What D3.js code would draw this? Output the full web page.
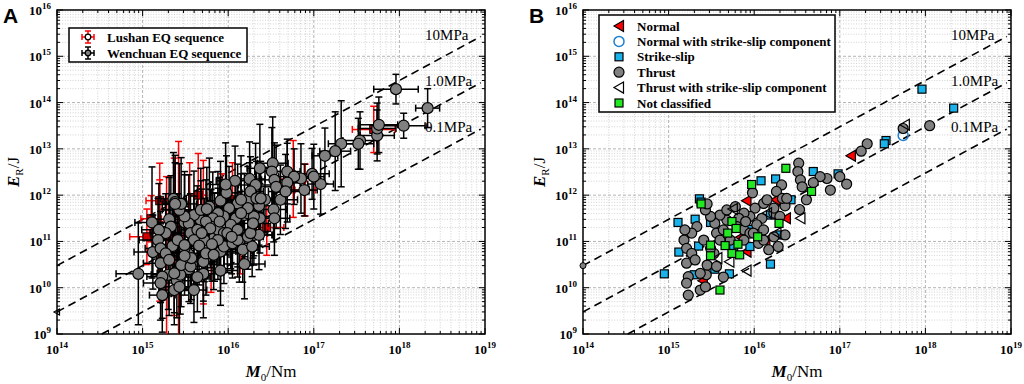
<!DOCTYPE html>
<html>
<head>
<meta charset="utf-8">
<script src="https://cdn.jsdelivr.net/npm/d3@7"></script>
<style>
  body { margin: 0; background: #fff; }
  svg { display: block; }
</style>
</head>
<body>
<div id="container"></div>
<script>
// ---- data: [log10 M0, log10 ER, log half-width M0, log half-width ER] ----
const normal = [
  [17.13,12.85,0.15,0.60],[15.91,11.88,0.15,0.85],[16.25,11.90,0.18,0.80],[16.37,11.50,0.20,0.75],
  [16.13,11.02,0.15,0.90],[15.91,10.78,0.18,0.85],[15.84,11.09,0.15,0.95],[15.40,10.15,0.20,0.80]
];
const normalSS = [[17.74,13.29,0.20,0.55]];
const strikeSlip = [
  [17.96,14.29,0.26,0.32],[18.33,13.88,0.14,0.42],[17.54,13.18,0.20,0.62],[17.52,13.11,0.18,0.55],
  [16.98,12.46,0.20,0.55],[16.69,12.51,0.15,0.70],[16.25,12.35,0.18,0.80],[16.08,12.31,0.22,0.75],
  [16.43,11.90,0.20,0.70],[15.36,11.92,0.15,1.00],[15.38,11.85,0.12,0.85],[15.11,11.41,0.20,1.20],
  [15.31,11.48,0.18,0.90],[15.12,10.77,0.22,0.80],[14.95,10.30,0.26,1.10],[15.30,10.28,0.20,0.75],
  [15.54,10.40,0.18,0.70],[15.71,10.30,0.20,0.95],[16.19,10.51,0.24,0.75],[16.30,11.14,0.22,0.65],
  [15.95,11.26,0.15,0.85],[15.49,11.41,0.15,1.10],[15.35,10.90,0.20,0.90],[15.95,10.89,0.18,0.80],
  [16.19,11.57,0.22,0.90],[15.76,10.89,0.20,0.70]
];
const thrust = [
  [18.05,13.50,0.25,0.27],[17.74,13.44,0.22,0.55],[17.32,13.11,0.15,0.93],[17.25,12.95,0.18,0.85],
  [17.08,12.24,0.15,0.65],[17.00,12.40,0.12,0.70],[16.89,12.11,0.15,0.56],[16.85,12.36,0.20,0.75],
  [16.77,12.40,0.18,0.60],[16.69,12.27,0.15,0.85],[16.52,12.69,0.18,1.00],[16.51,12.51,0.20,0.95],
  [16.54,12.33,0.15,0.80],[16.56,12.18,0.18,0.90],[16.61,11.90,0.20,0.75],[16.53,11.69,0.15,0.70],
  [16.36,11.77,0.18,0.85],[16.32,12.22,0.20,0.90],[16.26,12.08,0.15,0.75],[16.33,11.93,0.20,0.80],
  [16.23,11.61,0.18,0.70],[16.11,11.82,0.20,0.85],[16.01,11.72,0.15,0.90],[15.98,12.05,0.18,0.80],
  [16.09,11.50,0.20,0.75],[16.03,11.36,0.15,0.95],[15.95,11.54,0.18,0.80],[15.88,11.61,0.20,0.90],
  [15.82,11.50,0.15,1.00],[15.68,11.46,0.18,0.85],[15.60,11.57,0.20,0.95],[15.54,11.39,0.15,1.05],
  [15.49,11.54,0.18,0.90],[15.43,11.68,0.20,1.00],[15.33,11.32,0.15,1.10],[15.27,11.18,0.18,0.85],
  [15.19,11.25,0.20,1.00],[15.18,11.03,0.22,0.90],[15.21,10.85,0.18,0.80],[15.27,10.74,0.15,0.95],
  [15.21,10.53,0.20,0.85],[15.23,10.24,0.18,0.90],[15.21,10.10,0.20,0.80],[15.23,9.84,0.15,0.80],
  [15.37,9.95,0.18,0.75],[15.44,10.28,0.20,0.85],[15.45,10.49,0.15,0.90],[15.53,10.74,0.18,0.80],
  [15.41,11.03,0.20,1.00],[15.56,11.18,0.15,0.85],[15.64,11.25,0.18,0.95],[15.80,11.32,0.20,0.80],
  [15.88,11.25,0.15,0.90],[15.95,11.18,0.18,0.85],[16.05,10.96,0.20,0.75],[16.11,11.03,0.15,0.80],
  [16.17,10.82,0.18,0.70],[16.28,10.89,0.20,0.65],[16.36,11.14,0.15,0.75],[16.23,11.10,0.18,0.70],
  [15.88,11.03,0.20,0.85],[15.72,11.03,0.15,0.90],[15.60,11.03,0.18,0.95],[15.49,10.85,0.20,0.90],
  [15.64,10.23,0.15,0.75],[15.43,10.02,0.18,1.30],[15.37,10.31,0.20,0.85],[15.31,10.60,0.15,1.20],
  [15.56,10.46,0.18,0.80],[15.90,11.43,0.20,0.95],[15.99,11.18,0.15,0.85],[15.45,11.81,0.18,1.00],
  [15.68,11.68,0.20,0.90],[15.78,11.75,0.15,1.05],[16.11,11.25,0.18,0.80],[16.30,11.54,0.20,0.85],
  [16.23,11.72,0.15,0.90],[16.15,11.90,0.18,0.95],[16.38,11.93,0.20,0.80]
];
const thrustSS = [
  [17.76,13.52,0.22,0.60],[15.75,11.70,0.15,0.90],[16.54,11.50,0.18,0.80],[15.91,10.37,0.20,0.75],
  [15.71,10.56,0.15,0.85],[15.57,10.64,0.18,0.90],[16.26,11.18,0.20,0.70],[16.15,11.61,0.15,0.85]
];
const notClassified = [
  [16.37,12.58,0.15,0.95],[15.97,12.23,0.18,0.90],[16.67,12.08,0.20,0.80],[15.38,11.81,0.15,1.05],
  [16.29,11.39,0.18,0.75],[15.74,11.43,0.20,0.90],[15.79,11.28,0.15,0.85],[16.04,11.10,0.18,0.80],
  [15.69,11.18,0.20,0.95],[15.49,10.92,0.15,0.90],[15.66,10.91,0.18,0.85],[15.81,10.94,0.20,0.80],
  [15.74,10.74,0.15,0.90],[15.83,10.71,0.18,0.75],[15.49,10.69,0.20,0.85],[15.60,9.95,0.15,0.70]
];
// Lushan sequence (panel A, red)
const lushan = [
  [15.42,11.00,0.12,2.16],[15.37,11.10,0.10,1.70],[15.20,11.20,0.12,1.49],[15.28,10.60,0.10,1.80],
  [15.71,11.20,0.15,1.55],[15.20,11.88,0.16,0.45],[15.10,11.49,0.12,0.50],[15.93,11.80,0.15,0.66],
  [16.76,12.35,0.15,0.83],[16.90,12.11,0.12,0.56],[17.70,13.42,0.25,0.50],[16.14,11.00,0.12,0.70],
  [15.55,11.60,0.15,1.10],[16.45,11.30,0.20,0.60],[15.80,10.80,0.12,0.90],[16.05,11.90,0.12,0.80],
  [15.65,12.00,0.10,0.90],[15.05,11.10,0.20,0.60]
];

const xTickExp = [14, 15, 16, 17, 18, 19];
const yTickExp = [9, 10, 11, 12, 13, 14, 15, 16];
const stressMPa = [10, 1.0, 0.1];
const stressLabels = ['10MPa', '1.0MPa', '0.1MPa'];
const ratioPerMPa = 3e-5;   // E_R / M0 for a 1 MPa stress drop
const lineEndExp = 18.95;
const labelExp = 18.3;

const bLegend = ['Normal', 'Normal with strike-slip component', 'Strike-slip', 'Thrust',
                 'Thrust with strike-slip component', 'Not classified'];
const aLegend = ['Lushan EQ sequence', 'Wenchuan EQ sequence'];

const SERIF = "'Liberation Serif','Times New Roman',serif";
const P = v => Math.pow(10, v);

const svg = d3.select('#container').append('svg')
    .attr('width', 1024).attr('height', 384);

const defs = svg.append('defs');

const triPath = 'M-5,0L4.5,-5.5L4.5,5.5Z';

function panel(left, id, letter) {
  const top = 10, bottom = 334, right = left + 428;
  const x = d3.scaleLog().domain([1e14, 1e19]).range([left, right]);
  const y = d3.scaleLog().domain([1e9, 1e16]).range([bottom, top]);
  const g = svg.append('g');

  defs.append('clipPath').attr('id', 'clip' + id)
    .append('rect').attr('x', left).attr('y', top).attr('width', right - left).attr('height', bottom - top);

  // grid
  const minorX = [], minorY = [];
  for (let d = 14; d < 19; d++) for (let k = 2; k < 10; k++) minorX.push(k * P(d));
  for (let d = 9; d < 16; d++) for (let k = 2; k < 10; k++) minorY.push(k * P(d));
  const grid = g.append('g');
  grid.selectAll('.mx').data(minorX).enter().append('line')
    .attr('x1', d => x(d)).attr('x2', d => x(d)).attr('y1', top).attr('y2', bottom)
    .attr('stroke', '#c8c8c8').attr('stroke-width', 0.8).attr('stroke-dasharray', '1,1.6');
  grid.selectAll('.my').data(minorY).enter().append('line')
    .attr('y1', d => y(d)).attr('y2', d => y(d)).attr('x1', left).attr('x2', right)
    .attr('stroke', '#c8c8c8').attr('stroke-width', 0.8).attr('stroke-dasharray', '1,1.6');
  grid.selectAll('.Mx').data(xTickExp.slice(1, -1)).enter().append('line')
    .attr('x1', d => x(P(d))).attr('x2', d => x(P(d))).attr('y1', top).attr('y2', bottom)
    .attr('stroke', '#b4b4b4').attr('stroke-width', 1).attr('stroke-dasharray', '3,2');
  grid.selectAll('.My').data(yTickExp.slice(1, -1)).enter().append('line')
    .attr('y1', d => y(P(d))).attr('y2', d => y(P(d))).attr('x1', left).attr('x2', right)
    .attr('stroke', '#b4b4b4').attr('stroke-width', 1).attr('stroke-dasharray', '3,2');

  // stress drop lines
  const lines = g.append('g');
  stressMPa.forEach((s, i) => {
    const r = ratioPerMPa * s;
    const x0 = Math.max(1e14, 1e9 / r), x1 = P(lineEndExp);
    lines.append('line')
      .attr('x1', x(x0)).attr('y1', y(r * x0)).attr('x2', x(x1)).attr('y2', y(r * x1))
      .attr('stroke', '#000').attr('stroke-width', 1.6).attr('stroke-dasharray', '8,5');
    lines.append('text')
      .attr('x', x(P(labelExp))).attr('y', y(r * P(labelExp)) - 27)
      .attr('font-family', SERIF).attr('font-size', 15).text(stressLabels[i]);
  });

  // frame and ticks
  const ax = g.append('g');
  const tickSet = [];
  xTickExp.forEach(d => tickSet.push({v: P(d), major: true}));
  minorX.forEach(v => tickSet.push({v, major: false}));
  tickSet.forEach(t => {
    const px = x(t.v), L = t.major ? 6 : 3;
    ax.append('line').attr('x1', px).attr('x2', px).attr('y1', bottom).attr('y2', bottom - L).attr('stroke', '#000');
    ax.append('line').attr('x1', px).attr('x2', px).attr('y1', top).attr('y2', top + L).attr('stroke', '#000');
  });
  const ytickSet = [];
  yTickExp.forEach(d => ytickSet.push({v: P(d), major: true}));
  minorY.forEach(v => ytickSet.push({v, major: false}));
  ytickSet.forEach(t => {
    const py = y(t.v), L = t.major ? 6 : 3;
    ax.append('line').attr('y1', py).attr('y2', py).attr('x1', left).attr('x2', left + L).attr('stroke', '#000');
    ax.append('line').attr('y1', py).attr('y2', py).attr('x1', right).attr('x2', right - L).attr('stroke', '#000');
  });
  ax.append('rect').attr('x', left).attr('y', top).attr('width', right - left).attr('height', bottom - top)
    .attr('fill', 'none').attr('stroke', '#000').attr('stroke-width', 1.5);

  // tick labels
  const tl = g.append('g').attr('font-family', SERIF).attr('font-weight', 'bold');
  xTickExp.forEach(d => {
    const t = tl.append('text').attr('x', x(P(d))).attr('y', bottom + 20).attr('text-anchor', 'middle');
    t.append('tspan').attr('font-size', 13).text('10');
    t.append('tspan').attr('font-size', 9).attr('dy', -6).text(d);
  });
  yTickExp.forEach(d => {
    const t = tl.append('text').attr('x', left - 6).attr('y', y(P(d)) + 5).attr('text-anchor', 'end');
    t.append('tspan').attr('font-size', 13).text('10');
    t.append('tspan').attr('font-size', 9).attr('dy', -6).text(d);
  });

  // axis titles
  const xt = g.append('text').attr('x', (left + right) / 2).attr('y', 377)
    .attr('text-anchor', 'middle').attr('font-family', SERIF).attr('font-size', 17);
  xt.append('tspan').attr('font-weight', 'bold').attr('font-style', 'italic').text('M');
  xt.append('tspan').attr('font-size', 11).attr('dy', 4).text('0');
  xt.append('tspan').attr('dy', -4).text('/Nm');
  const yt = g.append('text').attr('transform', `translate(${left - 38},${(top + bottom) / 2}) rotate(-90)`)
    .attr('text-anchor', 'middle').attr('font-family', SERIF).attr('font-size', 17);
  yt.append('tspan').attr('font-weight', 'bold').attr('font-style', 'italic').text('E');
  yt.append('tspan').attr('font-size', 11).attr('dy', 4).text('R');
  yt.append('tspan').attr('dy', -4).text('/J');

  g.append('text').attr('x', left - 54).attr('y', 23)
    .attr('font-family', "'Liberation Sans',Arial,sans-serif").attr('font-weight', 'bold')
    .attr('font-size', 21).text(letter);

  const plot = g.append('g').attr('clip-path', `url(#clip${id})`);
  return {x, y, g, plot, left, top};
}

// ---------------- Panel A ----------------
const A = panel(57, 'A', 'A');

function errorBars(p, data, color) {
  const gg = p.plot.append('g').attr('stroke', color).attr('stroke-width', 1.5).attr('fill', 'none');
  data.forEach(d => {
    const cx = p.x(P(d[0])), cy = p.y(P(d[1]));
    const xl = p.x(P(d[0] - d[2])), xr = p.x(P(d[0] + d[2]));
    const yt = p.y(P(d[1] + d[3])), yb = p.y(P(d[1] - d[3]));
    gg.append('line').attr('x1', cx).attr('x2', cx).attr('y1', yt).attr('y2', yb);
    gg.append('line').attr('x1', xl).attr('x2', xr).attr('y1', cy).attr('y2', cy);
    gg.append('line').attr('x1', cx - 3.5).attr('x2', cx + 3.5).attr('y1', yt).attr('y2', yt);
    gg.append('line').attr('x1', cx - 3.5).attr('x2', cx + 3.5).attr('y1', yb).attr('y2', yb);
    gg.append('line').attr('x1', xl).attr('x2', xl).attr('y1', cy - 3.5).attr('y2', cy + 3.5);
    gg.append('line').attr('x1', xr).attr('x2', xr).attr('y1', cy - 3.5).attr('y2', cy + 3.5);
  });
}

const wenchuan = [].concat(normal, normalSS, strikeSlip, thrust, thrustSS, notClassified);

errorBars(A, lushan, '#ff0000');
A.plot.append('g').selectAll('rect').data(lushan).enter().append('rect')
  .attr('x', d => A.x(P(d[0])) - 4).attr('y', d => A.y(P(d[1])) - 4)
  .attr('width', 8).attr('height', 8).attr('fill', '#d00000').attr('stroke', '#000');
errorBars(A, wenchuan, '#000');
A.plot.append('g').selectAll('circle').data(wenchuan).enter().append('circle')
  .attr('cx', d => A.x(P(d[0]))).attr('cy', d => A.y(P(d[1]))).attr('r', 5.5)
  .attr('fill', '#808080').attr('stroke', '#000').attr('stroke-width', 1.2);

// small marker at the start of the 1.0 MPa line
A.g.append('path').attr('d', 'M-3,0L2.5,-3L2.5,3Z')
  .attr('transform', `translate(${A.x(1e14)},${A.y(ratioPerMPa * 1e14)})`)
  .attr('fill', 'none').attr('stroke', '#000').attr('stroke-width', 1.2);

// legend A
const la = A.g.append('g');
la.append('rect').attr('x', 69).attr('y', 28).attr('width', 178).attr('height', 34)
  .attr('fill', '#fff').attr('stroke', '#000').attr('stroke-width', 1.5);
aLegend.forEach((t, i) => {
  const cy = 37 + i * 16, cx = 88, col = i === 0 ? '#ff0000' : '#000';
  const s = la.append('g').attr('stroke', col).attr('stroke-width', 1.5);
  s.append('line').attr('x1', cx - 6).attr('x2', cx + 6).attr('y1', cy).attr('y2', cy);
  s.append('line').attr('x1', cx).attr('x2', cx).attr('y1', cy - 6).attr('y2', cy + 6);
  s.append('line').attr('x1', cx - 3).attr('x2', cx + 3).attr('y1', cy - 6).attr('y2', cy - 6);
  s.append('line').attr('x1', cx - 3).attr('x2', cx + 3).attr('y1', cy + 6).attr('y2', cy + 6);
  s.append('line').attr('x1', cx - 6).attr('x2', cx - 6).attr('y1', cy - 3).attr('y2', cy + 3);
  s.append('line').attr('x1', cx + 6).attr('x2', cx + 6).attr('y1', cy - 3).attr('y2', cy + 3);
  la.append('circle').attr('cx', cx).attr('cy', cy).attr('r', 2.8)
    .attr('fill', i === 0 ? '#fff' : '#808080').attr('stroke', '#000').attr('stroke-width', 1.3);
  la.append('text').attr('x', 107).attr('y', cy + 4.5)
    .attr('font-family', SERIF).attr('font-weight', 'bold').attr('font-size', 13).text(t);
});

// ---------------- Panel B ----------------
const B = panel(583, 'B', 'B');

const styles = [
  {data: normal, shape: 'tri', fill: '#ff0000', stroke: '#000'},
  {data: normalSS, shape: 'circle', fill: 'none', stroke: '#1f7fd0'},
  {data: strikeSlip, shape: 'square', fill: '#1ab2ea', stroke: '#000'},
  {data: thrust, shape: 'circle', fill: '#808080', stroke: '#000'},
  {data: thrustSS, shape: 'tri', fill: 'none', stroke: '#000'},
  {data: notClassified, shape: 'square', fill: '#22e822', stroke: '#000'}
];

function marker(sel, shape, fill, stroke) {
  let m;
  if (shape === 'tri') m = sel.append('path').attr('d', triPath);
  else if (shape === 'circle') m = sel.append('circle').attr('r', 5);
  else m = sel.append('rect').attr('x', -4).attr('y', -4).attr('width', 8).attr('height', 8);
  m.attr('fill', fill).attr('stroke', stroke).attr('stroke-width', shape === 'circle' && fill === 'none' ? 1.5 : 1.2);
  return m;
}

styles.forEach(st => {
  const gs = B.plot.append('g');
  st.data.forEach(d => {
    const gm = gs.append('g').attr('transform', `translate(${B.x(P(d[0]))},${B.y(P(d[1]))})`);
    marker(gm, st.shape, st.fill, st.stroke);
  });
});

// small marker at the start of the 10 MPa line
B.g.append('circle').attr('cx', B.x(1e14)).attr('cy', B.y(ratioPerMPa * 10 * 1e14)).attr('r', 3)
  .attr('fill', '#808080').attr('stroke', '#000');

// legend B
const lb = B.g.append('g');
lb.append('rect').attr('x', 599).attr('y', 15).attr('width', 236).attr('height', 97)
  .attr('fill', '#fff').attr('stroke', '#000').attr('stroke-width', 1.5);
bLegend.forEach((t, i) => {
  const cy = 26 + i * 15.4;
  const gm = lb.append('g').attr('transform', `translate(619,${cy})`);
  marker(gm, styles[i].shape, styles[i].fill, styles[i].stroke);
  lb.append('text').attr('x', 637).attr('y', cy + 4.5)
    .attr('font-family', SERIF).attr('font-weight', 'bold').attr('font-size', 13).text(t);
});
</script>
</body>
</html>
